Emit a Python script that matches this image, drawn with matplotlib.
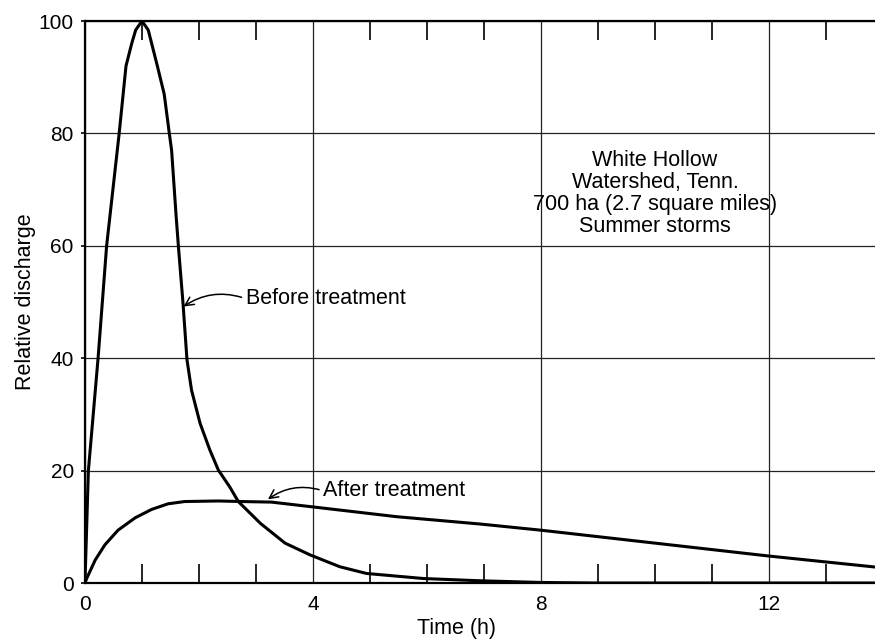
#!/usr/bin/env python3
"""Relative discharge hydrographs, White Hollow watershed, before/after treatment."""

import matplotlib
matplotlib.use('Agg')
import matplotlib.pyplot as plt
from matplotlib.ticker import MultipleLocator

# Before treatment hydrograph (time in h, relative discharge)
before_t = [0, 0.06, 0.23, 0.38, 0.60, 0.67, 0.72, 0.82, 0.89, 1.0, 1.11, 1.17,
            1.27, 1.39, 1.48, 1.52, 1.60, 1.64, 1.72, 1.79, 1.87, 2.02, 2.19,
            2.34, 2.54, 2.69, 3.08, 3.51, 3.95, 4.47, 4.94, 5.94, 6.93, 8.0,
            9.0, 14.0]
before_q = [0, 20, 40, 60, 80, 87, 92, 96, 98.4, 100, 98.4, 96,
            92, 87, 80, 77, 65.2, 59.8, 49.8, 39.7, 34.3, 28.4, 23.7,
            20.1, 17.1, 14.5, 10.6, 7.1, 5.0, 2.9, 1.7, 0.8, 0.4, 0.1,
            0, 0]

# After treatment hydrograph
after_t = [0, 0.03, 0.18, 0.35, 0.58, 0.88, 1.17, 1.46, 1.75, 2.34, 2.75, 3.27,
           3.95, 5.47, 6.93, 8.0, 10.0, 12.0, 14.0]
after_q = [0, 0.8, 4.1, 6.8, 9.4, 11.6, 13.1, 14.1, 14.5, 14.6, 14.5, 14.4,
           13.6, 11.8, 10.5, 9.4, 7.1, 4.8, 2.7]

x_major = [0, 4, 8, 12]
y_major = [0, 20, 40, 60, 80, 100]

site_note = 'White Hollow\nWatershed, Tenn.\n700 ha (2.7 square miles)\nSummer storms'

plt.rcParams['font.family'] = ['Liberation Sans', 'DejaVu Sans']

fig = plt.figure(figsize=(8.75, 6.39), dpi=100)
ax = fig.add_axes([0.0971, 0.0876, 0.9029, 0.8795])

ax.plot(before_t, before_q, color='black', lw=2.2, solid_joinstyle='round')
ax.plot(after_t, after_q, color='black', lw=2.2, solid_joinstyle='round')

ax.set_xlim(0, 13.86)
ax.set_ylim(0, 100)

# grid only at labelled values
ax.set_xticks(x_major)
ax.set_yticks(y_major)
ax.xaxis.set_minor_locator(MultipleLocator(1))
ax.grid(True, which='major', color='#222222', lw=0.9)
ax.set_axisbelow(True)

ax.tick_params(axis='x', which='major', length=0, pad=8.5, labelsize=15)
ax.tick_params(axis='x', which='minor', direction='in', length=13.5,
               width=1.2, top=True, bottom=True, color='black')
ax.tick_params(axis='y', which='major', direction='out', length=3,
               width=1.2, pad=5, labelsize=15)

ax.spines['right'].set_visible(False)
for side in ['left', 'top', 'bottom']:
    ax.spines[side].set_linewidth(1.6)

ax.set_xlabel('Time (h)', fontsize=15.5)
ax.xaxis.set_label_coords(0.47, -0.062)
ax.set_ylabel('Relative discharge', fontsize=15.5, labelpad=2)

ax.text(10.0, 69.3, site_note, ha='center', va='center', fontsize=15.5,
        linespacing=1.08)

ax.annotate('Before treatment', xy=(1.73, 49.2), xytext=(2.82, 50.6),
            ha='left', va='center', fontsize=15.5,
            arrowprops=dict(arrowstyle='->', color='black', lw=1.1,
                            shrinkA=1, shrinkB=0, relpos=(0, 0.5),
                            connectionstyle='arc3,rad=0.25'))
ax.annotate('After treatment', xy=(3.21, 14.9), xytext=(4.18, 16.4),
            ha='left', va='center', fontsize=15.5,
            arrowprops=dict(arrowstyle='->', color='black', lw=1.1,
                            shrinkA=1, shrinkB=0, relpos=(0, 0.5),
                            connectionstyle='arc3,rad=0.25'))

fig.savefig('out.png', dpi=100)
